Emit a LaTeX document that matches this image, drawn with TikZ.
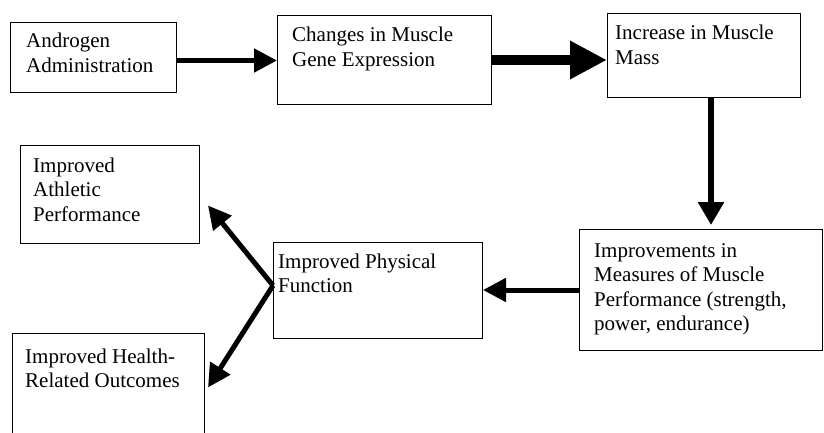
\documentclass[tikz,border=0pt]{standalone}
\usepackage{fontspec}
\setmainfont{Liberation Serif}
\usetikzlibrary{arrows.meta}

\tikzset{
  box/.style={draw, line width=1pt, anchor=north west, inner sep=0pt},
  txt/.style={anchor=base west, align=left, inner sep=0pt, font=\fontsize{21}{24.5}\selectfont},
  fat/.style={line width=5pt, -{Triangle[length=23pt,width=23pt]}},
}

\begin{document}
\begin{tikzpicture}[x=1pt, y=-1pt]
    \useasboundingbox (0,0) rectangle (824,433);
    \clip (0,0) rectangle (824,433);
    % Top row
    \node[box, minimum width=166pt, minimum height=70pt] (andro) at (10,22) {};
    \node[box, minimum width=214pt, minimum height=89pt] (genes) at (277,15) {};
    \node[box, minimum width=193pt, minimum height=84pt] (mass) at (607,13) {};
    % (text nodes sit on the baseline of their last line)
    \node[txt] (andro-t) at (26,72.5) {Androgen\\Administration};
    \node[txt] (genes-t) at (292,66.5) {Changes in Muscle\\Gene Expression};
    \node[txt] (mass-t) at (615,64.5) {Increase in Muscle\\Mass};
    % Middle and bottom
    \node[box, minimum width=243pt, minimum height=121pt] (perf) at (579,229) {};
    \node[box, minimum width=209pt, minimum height=96pt] (phys) at (273,242) {};
    \node[box, minimum width=179pt, minimum height=98pt] (athl) at (20,145) {};
    \node[box, minimum width=192pt, minimum height=120pt] (hlth) at (12,333) {};
    \node[txt] (perf-t) at (594,330.5) {Improvements in\\Measures of Muscle\\Performance (strength,\\power, endurance)};
    \node[txt] (phys-t) at (278,292.5) {Improved Physical\\Function};
    \node[txt] (athl-t) at (33,221) {Improved\\Athletic\\Performance};
    \node[txt] (hlth-t) at (25,387.5) {Improved Health-\\Related Outcomes};
    % Arrows
    \coordinate (m1) at ([xshift=7pt]mass.south);
    \coordinate (m2) at ([yshift=4pt]m1 |- perf.north);
    \coordinate (p0) at ([yshift=5pt]phys.west);
    \draw[fat] ([yshift=-3pt]andro.east) -- ([yshift=-3pt]andro.east -| genes.west);
    \draw[fat, line width=10pt, -{Triangle[length=37pt,width=36pt]}] (genes.east) -- (genes.east -| mass.west);
    \draw[fat, line width=6pt, -{Triangle[length=23pt,width=25pt]}] (m1) -- (m2);
    \draw[fat] (perf.west) -- (perf.west -| phys.east);
    \draw[fat] (p0) -- ([shift={(8pt,-11pt)}]athl.east);
    \draw[fat] (p0) -- ([shift={(3pt,6pt)}]hlth.east);
\end{tikzpicture}
\end{document}
